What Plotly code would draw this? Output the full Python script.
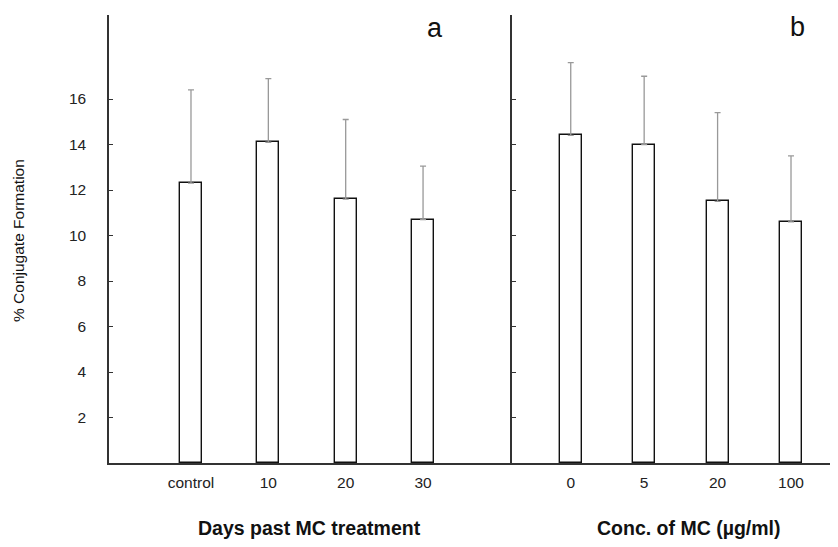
import plotly.graph_objects as go

# Panel a
days_labels = ["control", "10", "20", "30"]
days_values = [12.3, 14.1, 11.6, 10.7]
days_errors = [4.1, 2.8, 3.5, 2.35]

# Panel b
conc_labels = ["0", "5", "20", "100"]
conc_values = [14.4, 14.0, 11.5, 10.6]
conc_errors = [3.2, 3.0, 3.9, 2.9]

y_ticks = [2, 4, 6, 8, 10, 12, 14, 16]

# page offset (default body margin of the html page)
OFF = 8
WIN_W, WIN_H = 838, 547
W, H = WIN_W - OFF, WIN_H - OFF

# plot area in window pixels
X0, X1 = 109, 838
Y0, Y1 = 15, 463
L, R, T = X0 - OFF, 0, Y0 - OFF
B = H - (Y1 - OFF)
pw = X1 - X0
split = (512 - X0) / pw

font_family = "Liberation Sans, Arial, Helvetica, sans-serif"
axis_col = "#333333"
err_col = "#999999"

fig = go.Figure()
fig.add_trace(go.Bar(
    x=days_labels, y=days_values, xaxis="x", yaxis="y",
    width=0.285,
    marker=dict(color="white", line=dict(color="#111111", width=1.4)),
    error_y=dict(type="data", array=days_errors, arrayminus=[0] * 4, symmetric=False,
                 color=err_col, thickness=1.3, width=3),
    showlegend=False,
))
fig.add_trace(go.Bar(
    x=conc_labels, y=conc_values, xaxis="x2", yaxis="y2",
    width=0.30,
    marker=dict(color="white", line=dict(color="#111111", width=1.4)),
    error_y=dict(type="data", array=conc_errors, arrayminus=[0] * 4, symmetric=False,
                 color=err_col, thickness=1.3, width=3),
    showlegend=False,
))

ymax = (Y1 - Y0) / 22.75

tick_font = dict(family=font_family, size=15.5, color="#222222")
common_x = dict(type="category", showline=True, linecolor=axis_col, linewidth=1.5,
                ticks="", showgrid=False, zeroline=False,
                tickfont=tick_font, ticklabelstandoff=5)
common_y = dict(range=[0, ymax], showline=True, linecolor=axis_col, linewidth=1.5,
                ticks="inside", ticklen=4, tickcolor=axis_col, tickwidth=1,
                tickvals=y_ticks, showgrid=False, zeroline=False,
                tickfont=tick_font)

fig.update_layout(
    width=W, height=H,
    margin=dict(l=L, r=R, t=T, b=B, autoexpand=False),
    paper_bgcolor="white", plot_bgcolor="white",
    bargap=0,
    xaxis=dict(domain=[0, split], range=[-1.06, 4.15], **common_x),
    xaxis2=dict(domain=[split, 1], range=[-0.80, 3.64], anchor="y2", **common_x),
    yaxis=dict(anchor="x", ticklabelstandoff=18, **common_y),
    yaxis2=dict(anchor="x2", showticklabels=False, **common_y),
    font=dict(family=font_family),
)


def px_x(p):
    return (p - X0) / pw


def px_y(p):
    return (Y1 - p) / (Y1 - Y0)


annos = [
    dict(text="a", x=px_x(435), y=px_y(28), font=dict(size=27, color="#111111")),
    dict(text="b", x=px_x(797), y=px_y(27), font=dict(size=27, color="#111111")),
    dict(text="<b>Days past MC treatment</b>", x=px_x(309), y=px_y(528),
         font=dict(size=19.5, color="#111111")),
    dict(text="<b>Conc. of MC (µg/ml)</b>", x=px_x(688), y=px_y(528),
         font=dict(size=19.5, color="#111111")),
    dict(text="% Conjugate Formation", x=px_x(18), y=px_y(241), textangle=-90,
         font=dict(size=15.5, color="#111111")),
]
for a in annos:
    fig.add_annotation(xref="paper", yref="paper", showarrow=False,
                       xanchor="center", yanchor="middle",
                       font_family=font_family, **a)

fig.write_html("out.html")
